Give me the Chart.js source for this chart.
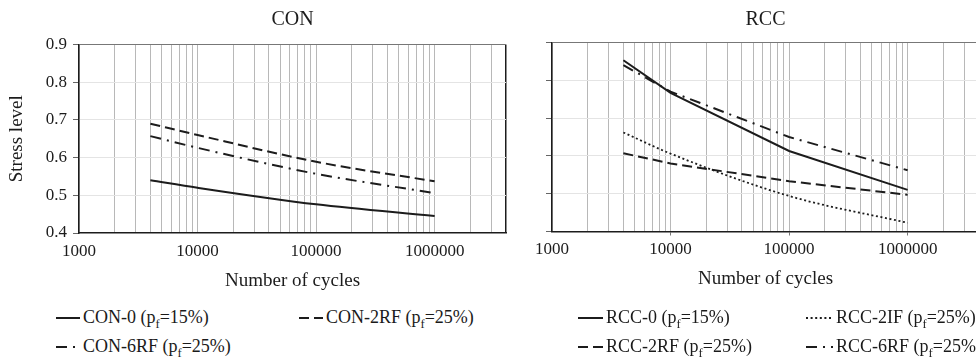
<!DOCTYPE html>
<html><head><meta charset="utf-8">
<script src="https://cdn.jsdelivr.net/npm/chart.js@4.4.1/dist/chart.umd.min.js"></script>
<style>
html,body{margin:0;padding:0;background:#fff;overflow:hidden;width:976px;height:361px;}
#wrap{position:relative;width:976px;height:361px;overflow:hidden;background:#fff;}
canvas{position:absolute;top:0;}
.leg{position:absolute;font-family:"Liberation Serif","Times New Roman",serif;font-size:18px;color:#1a1a1a;white-space:nowrap;line-height:1;}
.leg span{position:absolute;top:0;transform:translateY(-55%);}
.leg sub{font-size:0.7em;vertical-align:-0.35em;line-height:0;}
</style>
</head><body>
<div id="wrap">
<canvas id="cL" width="520" height="300" style="left:0px;width:520px;height:300px"></canvas>
<canvas id="cR" width="500" height="300" style="left:490px;width:500px;height:300px"></canvas>
<div id="legends"></div>
</div>
<script>
// ---- data ----
const cycles = [4000, 10000, 100000, 1000000];
const con0   = [0.540, 0.520, 0.476, 0.445];
const con2RF = [0.690, 0.660, 0.589, 0.537];
const con6RF = [0.657, 0.626, 0.557, 0.506];
const rcc0   = [0.853, 0.767, 0.613, 0.510];
const rcc2IF = [0.662, 0.606, 0.494, 0.423];
const rcc2RF = [0.607, 0.580, 0.533, 0.497];
const rcc6RF = [0.840, 0.770, 0.650, 0.562];
const yTicks = [0.4, 0.5, 0.6, 0.7, 0.8, 0.9];
const xTickLabels = [1000, 10000, 100000, 1000000];
const xMin = 1000, xMax = 4000000;

const SERIF = '"Liberation Serif","Times New Roman",serif';
const INK = '#1c1c1c';
const STY = {
  solid:   {borderDash: [], borderWidth: 2},
  dash:    {borderDash: [10, 5], borderWidth: 2},
  dashdot: {borderDash: [11, 6, 2, 6], borderWidth: 2},
  dot:     {borderDash: [2, 2.6], borderWidth: 1.8}
};

function ds(label, vals, sty, smooth) {
  return Object.assign({
    label: label,
    data: cycles.map((c, i) => ({x: c, y: vals[i]})),
    borderColor: INK,
    backgroundColor: INK,
    pointRadius: 0,
    fill: false,
    tension: 0,
    cubicInterpolationMode: smooth ? 'monotone' : 'default'
  }, STY[sty]);
}

const xGridTicks = [];
xTickLabels.forEach(d => { for (let m = 1; m <= 9; m++) { const v = m * d; if (v <= xMax) xGridTicks.push(v); } });

const titlePlugin = {
  id: 'ptitle',
  afterDraw(chart, args, opts) {
    const {ctx, chartArea} = chart;
    ctx.save();
    ctx.font = '20px ' + SERIF;
    ctx.fillStyle = INK;
    ctx.textAlign = 'center';
    ctx.textBaseline = 'middle';
    ctx.fillText(opts.text, (chartArea.left + chartArea.right) / 2, opts.y);
    ctx.restore();
  }
};

function makeChart(id, datasets, P) {
  return new Chart(document.getElementById(id), {
    type: 'line',
    data: {datasets: datasets},
    plugins: [titlePlugin],
    options: {
      responsive: false, animation: false, devicePixelRatio: 1,
      layout: {padding: {top: P.top, bottom: P.bottom, left: 0, right: P.right}},
      plugins: {legend: {display: false}, tooltip: {enabled: false}, ptitle: {text: P.title, y: P.titleY}},
      scales: {
        x: {
          type: 'logarithmic', min: xMin, max: xMax,
          afterBuildTicks: s => { s.ticks = xGridTicks.map(v => ({value: v})); },
          afterFit: s => { s.height = P.xh; },
          border: {color: INK, width: 1.5},
          grid: {
            color: c => (c.tick && c.tick.value >= xMax) ? INK : '#b8b8b8',
            lineWidth: c => (c.tick && c.tick.value >= xMax) ? 1.5 : 1,
            tickLength: 4,
            tickColor: c => (P.xMarks && c.tick && xTickLabels.includes(c.tick.value) && c.tick.value > xMin) ? '#777' : 'rgba(0,0,0,0)'
          },
          ticks: {
            autoSkip: false, maxRotation: 0, minRotation: 0, padding: 4, color: INK,
            font: {family: SERIF, size: 17},
            callback: v => xTickLabels.includes(v) ? String(v) : ''
          },
          title: {display: true, text: 'Number of cycles', color: INK, font: {family: SERIF, size: 19}, padding: {top: 0, bottom: 0}}
        },
        y: {
          min: 0.4, max: 0.9,
          afterBuildTicks: s => { s.ticks = yTicks.map(v => ({value: v})); },
          afterFit: s => { s.width = P.yw; },
          border: {color: INK, width: 1.5},
          grid: {
            color: c => (Math.abs(c.tick.value - 0.9) < 1e-9) ? '#777' : (c.tick.value < 0.45 ? 'rgba(0,0,0,0)' : '#e4e4e4'),
            tickColor: '#666', tickLength: 6
          },
          ticks: {display: P.yLabels, padding: 6, color: INK, font: {family: SERIF, size: 17}, callback: v => Number(v).toFixed(1)},
          title: {display: P.yLabels, text: 'Stress level', color: INK, font: {family: SERIF, size: 19}, padding: {top: 6, bottom: 0}}
        }
      }
    }
  });
}

const dCON = [
  ds('CON-0 (p<sub>f</sub>=15%)', con0, 'solid', true),
  ds('CON-2RF (p<sub>f</sub>=25%)', con2RF, 'dash', true),
  ds('CON-6RF (p<sub>f</sub>=25%)', con6RF, 'dashdot', true)
];
const dRCC = [
  ds('RCC-0 (p<sub>f</sub>=15%)', rcc0, 'solid', false),
  ds('RCC-2IF (p<sub>f</sub>=25%)', rcc2IF, 'dot', true),
  ds('RCC-2RF (p<sub>f</sub>=25%)', rcc2RF, 'dash', false),
  ds('RCC-6RF (p<sub>f</sub>=25%)', rcc6RF, 'dashdot', false)
];

makeChart('cL', dCON, {top: 44.5, bottom: 8, right: 14, xh: 59, yw: 79, yLabels: true, xMarks: false, title: 'CON', titleY: 20});
makeChart('cR', dRCC, {top: 42.5, bottom: 9.5, right: 11, xh: 59, yw: 62, yLabels: false, xMarks: true, title: 'RCC', titleY: 20});

// ---- HTML legends ----
const legendItems = [
  {d: dCON[0], sx: 56,  tx: 83,  y: 318},
  {d: dCON[1], sx: 299, tx: 326, y: 318},
  {d: dCON[2], sx: 56,  tx: 83,  y: 347},
  {d: dRCC[0], sx: 578, tx: 606, y: 318},
  {d: dRCC[1], sx: 806, tx: 836, y: 318},
  {d: dRCC[2], sx: 578, tx: 606, y: 347},
  {d: dRCC[3], sx: 806, tx: 836, y: 347}
];
const host = document.getElementById('legends');
legendItems.forEach(it => {
  const w = it.tx - it.sx - 3;
  const dash = it.d.borderDash.length ? ` stroke-dasharray="${it.d.borderDash.join(',')}"` : '';
  const el = document.createElement('div');
  el.className = 'leg';
  el.style.left = it.sx + 'px';
  el.style.top = it.y + 'px';
  el.innerHTML = `<svg width="${w}" height="8" style="position:absolute;left:0;top:-4px"><line x1="0" y1="4" x2="${w}" y2="4" stroke="${it.d.borderColor}" stroke-width="${it.d.borderWidth}"${dash}/></svg>` +
    `<span style="left:${it.tx - it.sx}px">${it.d.label}</span>`;
  host.appendChild(el);
});
</script>
</body></html>
